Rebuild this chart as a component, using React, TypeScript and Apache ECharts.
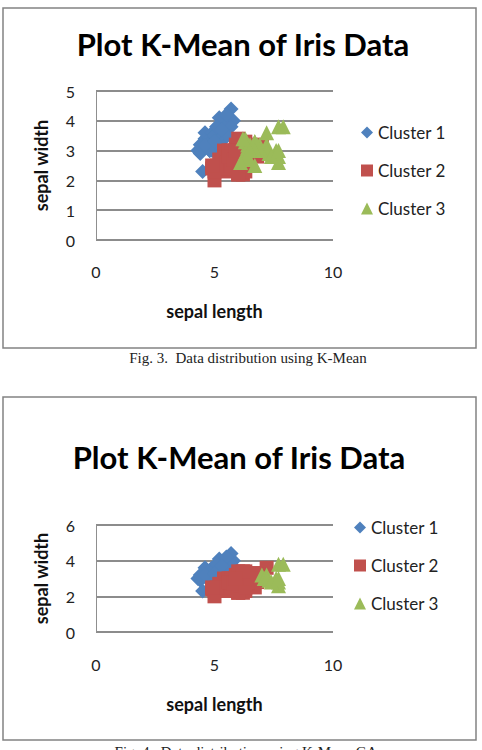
import { useEffect, useRef } from "react";
import * as echarts from "echarts";

// Cluster 1 (same in both figures): setosa-like points [sepal length, sepal width]
const cluster1 = [
  [5.1, 3.5], [4.9, 3.0], [4.7, 3.2], [4.6, 3.1], [5.0, 3.6], [5.4, 3.9], [4.6, 3.4], [5.0, 3.4], [4.4, 2.9], [4.9, 3.1],
  [5.4, 3.7], [4.8, 3.4], [4.8, 3.0], [4.3, 3.0], [5.8, 4.0], [5.7, 4.4], [5.4, 3.9], [5.1, 3.5], [5.7, 3.8], [5.1, 3.8],
  [5.4, 3.4], [5.1, 3.7], [4.6, 3.6], [5.1, 3.3], [4.8, 3.4], [5.0, 3.0], [5.0, 3.4], [5.2, 3.5], [5.2, 3.4], [4.7, 3.2],
  [4.8, 3.1], [5.4, 3.4], [5.2, 4.1], [5.5, 4.2], [4.9, 3.1], [5.0, 3.2], [5.5, 3.5], [4.9, 3.6], [4.4, 3.0], [5.1, 3.4],
  [5.0, 3.5], [4.5, 2.3], [4.4, 3.2], [5.0, 3.5], [5.1, 3.8], [4.8, 3.0], [5.1, 3.8], [4.6, 3.2], [5.3, 3.7], [5.0, 3.3],
];

// Fig. 3 (K-Mean)
const kmCluster2 = [
  [7.0, 3.2], [6.4, 3.2], [5.5, 2.3], [6.5, 2.8], [5.7, 2.8], [6.3, 3.3], [4.9, 2.4], [6.6, 2.9], [5.2, 2.7], [5.0, 2.0],
  [5.9, 3.0], [6.0, 2.2], [6.1, 2.9], [5.6, 2.9], [6.7, 3.1], [5.6, 3.0], [5.8, 2.7], [6.2, 2.2], [5.6, 2.5], [5.9, 3.2],
  [6.1, 2.8], [6.3, 2.5], [6.1, 2.8], [6.4, 2.9], [6.6, 3.0], [6.8, 2.8], [6.0, 2.9], [5.7, 2.6], [5.5, 2.4], [5.5, 2.4],
  [5.8, 2.7], [6.0, 2.7], [5.4, 3.0], [6.0, 3.4], [6.7, 3.1], [6.3, 2.3], [5.6, 3.0], [5.5, 2.5], [5.5, 2.6], [6.1, 3.0],
  [5.8, 2.6], [5.0, 2.3], [5.6, 2.7], [5.7, 3.0], [5.7, 2.9], [6.2, 2.9], [5.1, 2.5], [5.7, 2.8],
  [5.8, 2.7], [4.9, 2.5], [5.7, 2.5], [5.8, 2.8], [6.0, 2.2], [5.6, 2.8], [6.3, 2.7], [6.2, 2.8], [6.1, 3.0], [6.3, 2.8],
  [6.0, 3.0], [5.8, 2.7], [6.3, 2.5], [5.9, 3.0],
];
const kmCluster3 = [
  [6.9, 3.1], [6.7, 3.0], [6.3, 3.3], [7.1, 3.0], [6.3, 2.9], [6.5, 3.0], [7.6, 3.0], [7.3, 2.9], [6.7, 2.5], [7.2, 3.6],
  [6.5, 3.2], [6.4, 2.7], [6.8, 3.0], [6.4, 3.2], [6.5, 3.0], [7.7, 3.8], [7.7, 2.6], [6.9, 3.2], [7.7, 2.8], [6.7, 3.3],
  [7.2, 3.2], [6.4, 2.8], [7.2, 3.0], [7.4, 2.8], [7.9, 3.8], [6.4, 2.8], [6.1, 2.6], [7.7, 3.0], [6.3, 3.4], [6.4, 3.1],
  [6.9, 3.1], [6.7, 3.1], [6.9, 3.1], [6.8, 3.2], [6.7, 3.3], [6.7, 3.0], [6.5, 3.0], [6.2, 3.4],
];

// Fig. 4 (K-Mean GA)
const gaCluster2 = [
  [6.4, 3.2], [6.9, 3.1], [5.5, 2.3], [6.5, 2.8], [5.7, 2.8], [6.3, 3.3], [4.9, 2.4], [6.6, 2.9], [5.2, 2.7], [5.0, 2.0],
  [5.9, 3.0], [6.0, 2.2], [6.1, 2.9], [5.6, 2.9], [6.7, 3.1], [5.6, 3.0], [5.8, 2.7], [6.2, 2.2], [5.6, 2.5], [5.9, 3.2],
  [6.1, 2.8], [6.3, 2.5], [6.1, 2.8], [6.4, 2.9], [6.6, 3.0], [6.8, 2.8], [6.7, 3.0], [6.0, 2.9], [5.7, 2.6], [5.5, 2.4],
  [5.5, 2.4], [5.8, 2.7], [6.0, 2.7], [5.4, 3.0], [6.0, 3.4], [6.7, 3.1], [6.3, 2.3], [5.6, 3.0], [5.5, 2.5], [5.5, 2.6],
  [6.1, 3.0], [5.8, 2.6], [5.0, 2.3], [5.6, 2.7], [5.7, 3.0], [5.7, 2.9], [6.2, 2.9], [5.1, 2.5], [5.7, 2.8],
  [6.3, 3.3], [5.8, 2.7], [6.3, 2.9], [6.5, 3.0], [4.9, 2.5], [6.7, 2.5], [7.2, 3.6], [6.5, 3.2], [6.4, 2.7], [6.8, 3.0],
  [5.7, 2.5], [5.8, 2.8], [6.4, 3.2], [6.5, 3.0], [6.0, 2.2], [6.9, 3.2], [5.6, 2.8], [6.3, 2.7], [6.7, 3.3], [6.2, 2.8],
  [6.1, 3.0], [6.4, 2.8], [6.4, 2.8], [6.3, 2.8], [6.1, 2.6], [6.3, 3.4], [6.4, 3.1], [6.0, 3.0], [6.9, 3.1], [6.7, 3.1],
  [6.9, 3.1], [5.8, 2.7], [6.8, 3.2], [6.7, 3.3], [6.7, 3.0], [6.3, 2.5], [6.5, 3.0], [6.2, 3.4], [5.9, 3.0],
];
const gaCluster3 = [
  [7.0, 3.2], [7.1, 3.0], [7.6, 3.0], [7.3, 2.9], [7.7, 3.8], [7.7, 2.6], [7.7, 2.8], [7.2, 3.2], [7.2, 3.0], [7.4, 2.8],
  [7.9, 3.8], [7.7, 3.0],
];

const seriesNames = ["Cluster 1", "Cluster 2", "Cluster 3"];
const chartTitle = "Plot K-Mean of Iris Data";
const xAxisName = "sepal length";
const yAxisName = "sepal width";
const captions = ["Fig. 3.  Data distribution using K-Mean", "Fig. 4.  Data distribution using K-Mean GA"];

const COLORS = ["#4F81BD", "#C0504D", "#9BBB59"];
const SYMBOLS = ["diamond", "rect", "triangle"];
const SIZES = [15, 14, 15];
const FONT = "Lato, 'Open Sans', sans-serif";

export default function App() {
  const ref = useRef<HTMLDivElement>(null);
  useEffect(() => {
    if (!ref.current) return;
    const chart = echarts.init(ref.current, null, { renderer: "svg" });

    const xAxisFor = (gridIndex: number, labelMargin: number, nameGap: number) => ({
      type: "value",
      gridIndex,
      min: 0,
      max: 10,
      interval: 5,
      axisLine: { show: false },
      axisTick: { show: false },
      splitLine: { show: false },
      axisLabel: { margin: labelMargin, fontSize: 16, color: "#222", fontFamily: FONT },
      name: xAxisName,
      nameLocation: "middle",
      nameGap,
      nameTextStyle: { fontSize: 18, fontWeight: "bold", color: "#111", fontFamily: FONT },
    });
    const yAxisFor = (gridIndex: number, max: number, interval: number) => ({
      type: "value",
      gridIndex,
      min: 0,
      max,
      interval,
      axisLine: { show: true, lineStyle: { color: "#8f8f8f", width: 1 } },
      axisTick: { show: false },
      splitLine: { show: true, lineStyle: { color: "#8c8c8c", width: 2 } },
      axisLabel: { margin: 21, fontSize: 16, color: "#222", fontFamily: FONT },
      name: yAxisName,
      nameLocation: "middle",
      nameGap: 46,
      nameRotate: 90,
      nameTextStyle: { fontSize: 18, fontWeight: "bold", color: "#111", fontFamily: FONT },
    });

    const datasets = [
      [cluster1, kmCluster2, kmCluster3],
      [cluster1, gaCluster2, gaCluster3],
    ];
    const series: any[] = [];
    datasets.forEach((group, gi) => {
      group.forEach((data, si) => {
        series.push({
          type: "scatter",
          name: seriesNames[si],
          xAxisIndex: gi,
          yAxisIndex: gi,
          data,
          symbol: SYMBOLS[si],
          symbolSize: SIZES[si],
          itemStyle: { color: COLORS[si], opacity: 1 },
          emphasis: { disabled: true },
        });
      });
    });

    const legendFor = (left: number, top: number) => ({
      data: seriesNames,
      orient: "vertical",
      left,
      top,
      itemWidth: 12,
      itemHeight: 12,
      itemGap: 21,
      textStyle: { fontSize: 17, color: "#222", fontFamily: FONT },
      selectedMode: false,
    });

    chart.setOption({
      animation: false,
      backgroundColor: "#fff",
      title: [
        {
          text: chartTitle,
          left: 238,
          top: 23,
          textAlign: "center",
          textStyle: { fontSize: 31, fontWeight: "bold", color: "#000", fontFamily: FONT },
        },
        {
          text: chartTitle,
          left: 234,
          top: 436,
          textAlign: "center",
          textStyle: { fontSize: 31, fontWeight: "bold", color: "#000", fontFamily: FONT },
        },
      ],
      legend: [legendFor(356, 119), legendFor(349, 514)],
      grid: [
        { left: 96, top: 91, width: 237, height: 149 },
        { left: 96, top: 525, width: 237, height: 107 },
      ],
      xAxis: [xAxisFor(0, 23, 62), xAxisFor(1, 24, 63)],
      yAxis: [yAxisFor(0, 5, 1), yAxisFor(1, 6, 2)],
      series,
      graphic: [
        { type: "rect", shape: { x: 3, y: 8, width: 473, height: 340 }, style: { fill: "none", stroke: "#828282", lineWidth: 1.5 }, silent: true },
        { type: "rect", shape: { x: 3, y: 397, width: 473, height: 343 }, style: { fill: "none", stroke: "#828282", lineWidth: 1.5 }, silent: true },
        {
          type: "text",
          x: 248,
          y: 358,
          style: { text: captions[0], fontSize: 15, fontFamily: "'Liberation Serif', 'Times New Roman', serif", fill: "#222", textAlign: "center", textVerticalAlign: "middle" },
        },
        {
          type: "text",
          x: 246,
          y: 752,
          style: { text: captions[1], fontSize: 15, fontFamily: "'Liberation Serif', 'Times New Roman', serif", fill: "#222", textAlign: "center", textVerticalAlign: "middle" },
        },
      ],
    });
    return () => chart.dispose();
  }, []);

  return (
    <div
      ref={ref}
      style={{ position: "absolute", left: 0, top: 0, width: 482, height: 750, background: "#fff" }}
    />
  );
}
